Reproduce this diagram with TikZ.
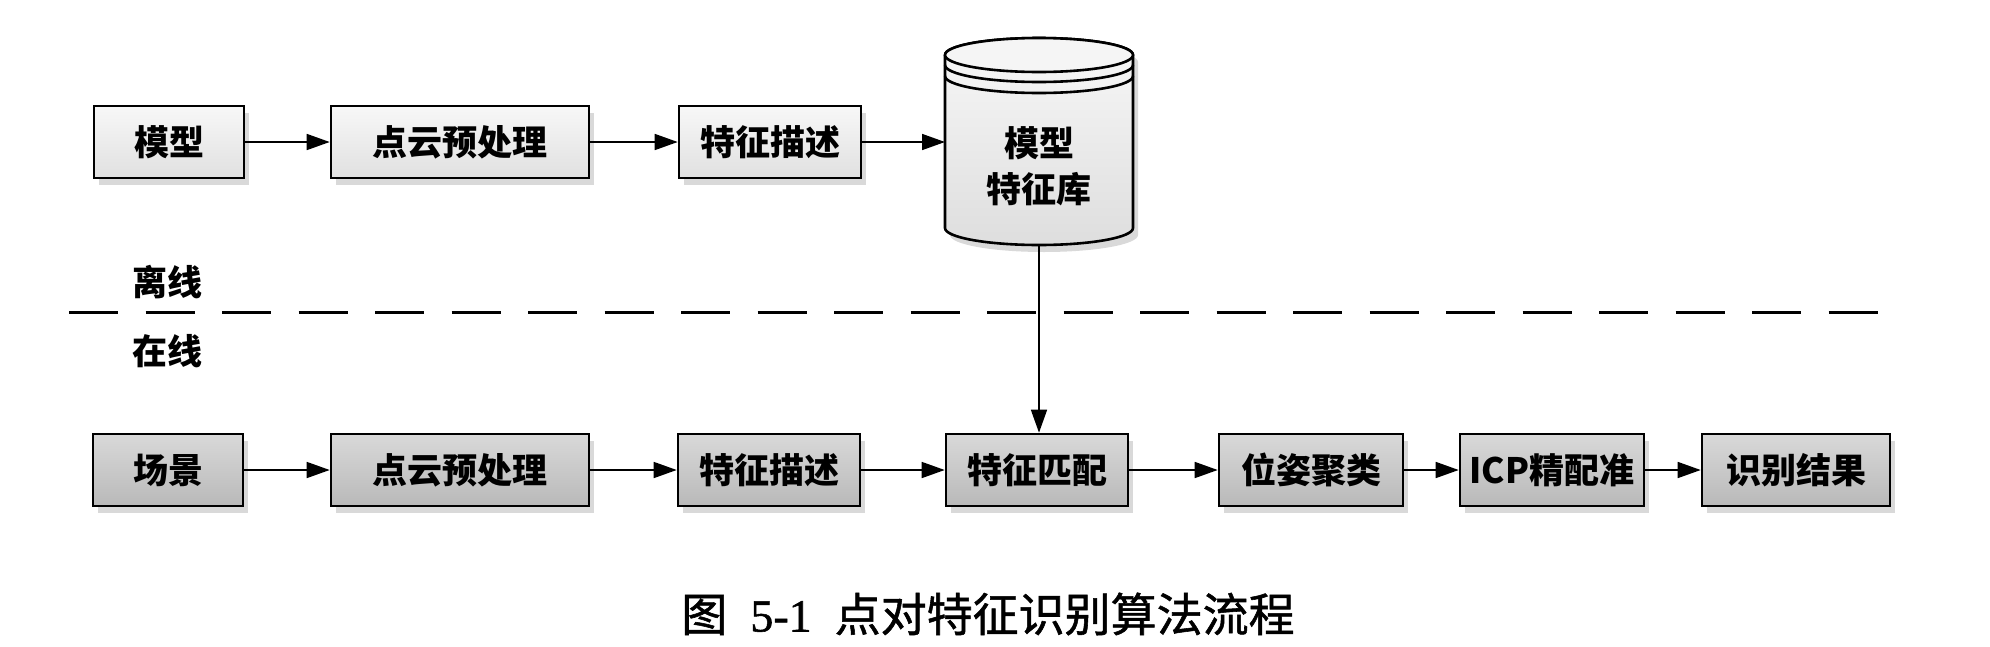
\documentclass[tikz,border=0pt]{standalone}
\usepackage{fontspec}
\setmainfont{Noto Sans CJK SC}
\newfontfamily\capfont{Noto Sans CJK SC}[FakeBold=1.2]
\newfontfamily\capnum{Liberation Serif}[FakeBold=1.2]
\usetikzlibrary{arrows.meta,shadows}
\tikzset{
  box/.style={draw,line width=2.6pt,minimum height=72pt,inner sep=0pt,
    font=\fontsize{35}{40}\selectfont\bfseries,
    drop shadow={shadow xshift=5pt,shadow yshift=-7pt,opacity=.3,fill=gray}},
  offbox/.style={box,top color=gray!6,bottom color=gray!24},
  onbox/.style={box,top color=gray!30,bottom color=gray!55},
  flow/.style={->,line width=1.6pt},
  side/.style={font=\fontsize{35}{46}\selectfont\bfseries}
}
\begin{document}
\begin{tikzpicture}[x=1pt,y=1pt,>={Triangle[length=23pt,width=16pt]}]
\useasboundingbox (0,0) rectangle (1990,-646);
% offline
\node[offbox,minimum width=150pt] (m1) at (169,-142) {模型};
\node[offbox,minimum width=258pt] (m2) at (460,-142) {点云预处理};
\node[offbox,minimum width=182pt] (m3) at (770,-142) {特征描述};
% model feature library
\path[draw,line width=2.6pt,top color=gray!6,bottom color=gray!26,
  drop shadow={shadow xshift=5pt,shadow yshift=-7pt,opacity=.3,fill=gray}]
  (945,-55) -- (945,-228) arc[start angle=180,end angle=360,x radius=94,y radius=17]
  -- (1133,-55) arc[start angle=0,end angle=180,x radius=94,y radius=17];
\draw[line width=2.6pt,fill=gray!8] (1039,-55) ellipse[x radius=94,y radius=17];
\draw[line width=2.6pt] (945,-65) arc[start angle=180,end angle=360,x radius=94,y radius=17];
\draw[line width=2.6pt] (945,-76) arc[start angle=180,end angle=360,x radius=94,y radius=17];
\node[side,align=center] (lib) at (1039,-166) {模型\\特征库};
\coordinate (libw) at (945,-142);
\coordinate (libb) at (1039,-245);
\draw[flow] (m1) -- (m2);
\draw[flow] (m2) -- (m3);
\draw[flow] (m3) -- (libw);
% offline / online
\node[side] (off) at (167,-282) {离线};
\node[side] (on) at (167,-351) {在线};
\draw[line width=3pt,dash pattern=on 49pt off 27.5pt] (69,-312) -- (1882,-312);
% online
\node[onbox,minimum width=150pt] (s1) at (168,-470) {场景};
\node[onbox,minimum width=258pt] (s2) at (460,-470) {点云预处理};
\node[onbox,minimum width=182pt] (s3) at (769,-470) {特征描述};
\node[onbox,minimum width=182pt] (s4) at (1037,-470) {特征匹配};
\node[onbox,minimum width=184pt] (s5) at (1311,-470) {位姿聚类};
\node[onbox,minimum width=184pt] (s6) at (1552,-470) {ICP精配准};
\node[onbox,minimum width=188pt] (s7) at (1796,-470) {识别结果};
\draw[flow] (s1) -- (s2);
\draw[flow] (s2) -- (s3);
\draw[flow] (s3) -- (s4);
\draw[flow] (s4) -- (s5);
\draw[flow] (s5) -- (s6);
\draw[flow] (s6) -- (s7);
\draw[flow] (libb) -- (libb |- s4.north);
% caption
\node[font=\fontsize{46}{52}\capfont] (cap) at (988,-614) {图\hspace{.5em}{\capnum 5-1}\hspace{.5em}点对特征识别算法流程};
\end{tikzpicture}
\end{document}
